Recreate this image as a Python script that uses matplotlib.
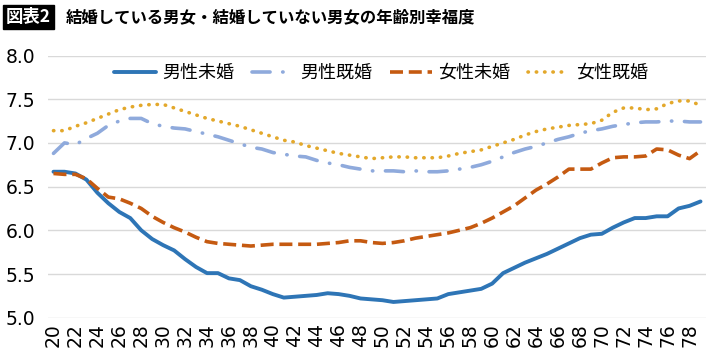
import matplotlib
matplotlib.use("Agg")
import matplotlib.pyplot as plt

plt.rcParams['font.family'] = ['Noto Sans CJK JP', 'DejaVu Sans']

ages = list(range(20, 80))
male_unmarried = [6.67, 6.67, 6.65, 6.58, 6.43, 6.31, 6.21, 6.14, 6.00, 5.90,
                  5.83, 5.77, 5.67, 5.58, 5.51, 5.51, 5.45, 5.43, 5.36, 5.32,
                  5.27, 5.23, 5.24, 5.25, 5.26, 5.28, 5.27, 5.25, 5.22, 5.21,
                  5.20, 5.18, 5.19, 5.20, 5.21, 5.22, 5.27, 5.29, 5.31, 5.33,
                  5.39, 5.51, 5.57, 5.63, 5.68, 5.73, 5.79, 5.85, 5.91, 5.95,
                  5.96, 6.03, 6.09, 6.14, 6.14, 6.16, 6.16, 6.25, 6.28, 6.33]
male_married = [6.88, 7.00, 6.98, 7.05, 7.11, 7.20, 7.25, 7.28, 7.28, 7.22,
                7.19, 7.17, 7.16, 7.13, 7.10, 7.07, 7.03, 6.99, 6.95, 6.93,
                6.89, 6.87, 6.85, 6.84, 6.80, 6.77, 6.75, 6.72, 6.70, 6.68,
                6.68, 6.68, 6.67, 6.68, 6.67, 6.67, 6.68, 6.70, 6.72, 6.75,
                6.79, 6.84, 6.89, 6.93, 6.96, 7.00, 7.04, 7.07, 7.11, 7.14,
                7.16, 7.19, 7.21, 7.23, 7.24, 7.24, 7.25, 7.25, 7.24, 7.24]
female_unmarried = [6.65, 6.64, 6.64, 6.59, 6.48, 6.38, 6.36, 6.31, 6.25, 6.16,
                    6.09, 6.03, 5.98, 5.92, 5.87, 5.85, 5.84, 5.83, 5.82, 5.83,
                    5.84, 5.84, 5.84, 5.84, 5.84, 5.85, 5.86, 5.88, 5.88, 5.86,
                    5.85, 5.86, 5.88, 5.91, 5.93, 5.95, 5.97, 6.00, 6.03, 6.08,
                    6.14, 6.21, 6.28, 6.37, 6.46, 6.53, 6.61, 6.70, 6.70, 6.70,
                    6.77, 6.83, 6.84, 6.84, 6.85, 6.93, 6.92, 6.86, 6.82, 6.91]
female_married = [7.14, 7.14, 7.19, 7.23, 7.28, 7.33, 7.38, 7.41, 7.43, 7.44,
                  7.44, 7.40, 7.36, 7.32, 7.28, 7.25, 7.22, 7.19, 7.15, 7.11,
                  7.07, 7.03, 7.01, 6.97, 6.94, 6.91, 6.88, 6.86, 6.84, 6.82,
                  6.83, 6.84, 6.84, 6.83, 6.83, 6.83, 6.85, 6.88, 6.90, 6.92,
                  6.96, 7.00, 7.04, 7.09, 7.13, 7.16, 7.18, 7.20, 7.21, 7.22,
                  7.26, 7.35, 7.40, 7.40, 7.38, 7.39, 7.45, 7.48, 7.48, 7.43]
series_labels = ['男性未婚', '男性既婚', '女性未婚', '女性既婚']
yticks = [5.0, 5.5, 6.0, 6.5, 7.0, 7.5, 8.0]
title_tag = '図表2'
title_text = '結婚している男女・結婚していない男女の年齢別幸福度'

fig = plt.figure(figsize=(7.10, 3.59), dpi=100)
ax = fig.add_axes([48/710, 1-317.7/359, 658/710, (317.7-55.5)/359])

lw = 2.6
ax.plot(ages, male_unmarried, color='#2E75B6', lw=2.8, solid_capstyle='round',
        solid_joinstyle='round', label=series_labels[0], zorder=3)
ax.plot(ages, male_married, color='#8FAADC', lw=lw, label=series_labels[1],
        dashes=(5, 3.5, 0.1, 3.5), dash_capstyle='round', zorder=3)
ax.plot(ages, female_unmarried, color='#C55A11', lw=lw, label=series_labels[2],
        dashes=(3.6, 1.6), dash_capstyle='butt', zorder=3)
ax.plot(ages, female_married, color='#E3A82B', lw=lw, label=series_labels[3],
        dashes=(0.1, 2.2), dash_capstyle='round', zorder=3)

ax.set_xlim(19.5, 79.5)
ax.set_ylim(5.0, 8.0)
ax.set_yticks(yticks)
ax.set_yticklabels([f'{v:.1f}' for v in yticks], fontsize=13.5, family='DejaVu Sans')
xt = list(range(20, 79, 2))
ax.set_xticks(xt)
ax.set_xticklabels([str(v) for v in xt], rotation=90, fontsize=13.5, family='DejaVu Sans')
ax.tick_params(axis='y', length=0, pad=9)
ax.tick_params(axis='x', length=0, pad=4)
ax.grid(axis='y', color='#D9D9D9', lw=1)
ax.set_axisbelow(True)
for s in ax.spines.values():
    s.set_visible(False)

fig.legend(loc='center', bbox_to_anchor=(381/710, 1-73/359), ncol=4, frameon=False,
           fontsize=13, handlelength=2.3, handletextpad=0.35, columnspacing=1.0)

fig.text(6/710, 1-17/359, title_tag, color='white', fontsize=12.5, fontweight='bold',
         va='center', ha='left',
         bbox=dict(boxstyle='square,pad=0.18', fc='black', ec='black'))
fig.text(66/710, 1-17/359, title_text, color='black', fontsize=11.8, fontweight='bold',
         va='center', ha='left')

fig.savefig('out.png', dpi=100)
